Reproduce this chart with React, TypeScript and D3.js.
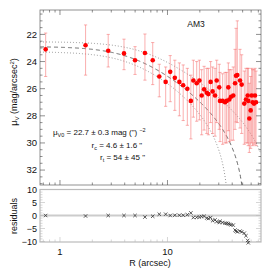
import * as d3 from "d3";

// surface brightness profile of AM3
const radius = [
  0.736, 1.73, 2.81, 3.94, 4.99, 6.17, 7.29, 8.39, 9.62, 10.6,
  11.7, 12.9, 14.0, 15.3, 16.5, 17.4, 18.7, 19.8, 20.8, 21.9,
  23.2, 24.0, 25.2, 26.3, 27.7, 28.7, 30.3, 30.8, 32.6, 34.3,
  35.5, 36.8, 37.6, 39.0, 40.9, 42.5, 43.4, 44.6, 47.3, 49.0,
  51.8, 53.7, 55.7, 56.4, 57.7, 59.4, 60.7, 62.0, 63.8, 65.2, 66.6,
];
const muV = [
  23.1, 22.8, 23.2, 23.4, 23.9, 23.37, 23.9, 25.1, 25.5, 24.76,
  25.2, 25.5, 25.75, 26.0, 26.9, 25.4, 25.6, 25.4, 26.5, 26.05,
  26.3, 26.4, 25.5, 26.2, 26.5, 25.4, 25.9, 26.9, 26.9, 27.0,
  26.9, 25.9, 26.8, 26.6, 26.5, 25.6, 25.05, 25.0, 25.4, 25.7,
  27.1, 26.8, 26.5, 26.9, 28.2, 27.6, 26.5, 27.0, 27.1, 26.5, 27.0,
];
const errUp = [
  1.2, 1.5, 1.2, 1.05, 1.0, 1.4, 1.3, 0.9, 1.1, 1.2,
  1.3, 1.4, 1.5, 1.5, 1.9, 1.5, 1.6, 1.5, 1.9, 1.7,
  1.8, 1.9, 1.5, 1.8, 2.0, 1.5, 1.7, 2.1, 2.0, 2.2,
  2.1, 1.8, 2.2, 2.0, 2.1, 2.5, 3.5, 4.0, 2.3, 2.2,
  2.4, 2.3, 2.0, 2.4, 2.6, 2.5, 2.0, 2.4, 2.5, 2.0, 2.3,
];
const errDown = [
  2.0, 2.2, 1.2, 1.2, 1.05, 2.0, 1.8, 1.5, 1.8, 2.2,
  2.4, 2.5, 2.6, 2.7, 2.8, 2.7, 2.8, 2.9, 2.9, 3.0,
  3.0, 3.0, 3.0, 3.1, 3.0, 3.1, 3.1, 3.0, 3.2, 3.0,
  3.1, 3.2, 3.1, 3.2, 3.3, 3.4, 3.4, 3.5, 3.5, 3.6,
  3.0, 3.2, 3.5, 3.3, 2.5, 2.8, 3.5, 3.2, 3.0, 3.5, 3.2,
];
const residuals = [
  0, -0.2, 0, 0, 0, -0.6, -0.3, 0.5, 0.5, 0,
  0.1, 0.1, 0.1, 0.3, 1.0, -0.8, -0.7, -0.6, -0.4, -0.3,
  -1.0, -1.2, -0.8, -2.0, -1.7, -2.4, -2.7, -2.2, -2.7, -3.0,
  -3.0, -3.1, -3.4, -3.6, -3.7, -5.6, -6.0, -6.3, -6.0, -6.3,
  -6.8, -7.8, -9.6, -10.5, null, null, null, null, null, null, null,
];

// King fits: best fit, upper and lower bounds
const fitMu0 = [22.7, 22.4, 23.0];
const fitRc = [4.6, 6.2, 4.6];
const fitRt = [54, 99, 38];

const yTickLabels = [22, 24, 26, 28, 30, 32];
const resTickLabels = [-10, -5, 0, 5, 10];
const xTickLabels = [1, 10];

const W = 270;
const H = 270;
const left = 40;
const right = 261;
const top = 10;
const mainBottom = 185;
const resTop = 189.5;
const resBottom = 242;
const font = "'Liberation Sans', Arial, Helvetica, sans-serif";

const x = d3.scaleLog().domain([0.652, 74.1]).range([left, right]);
const y = d3.scaleLinear().domain([20.2, 33.1]).range([top, mainBottom]);
const yRes = d3.scaleLinear().domain([-10, 10]).range([241.5, 189.5]);

function king(r: number, mu0: number, rc: number, rt: number) {
  const c = 1 / Math.sqrt(1 + (rt / rc) ** 2);
  const f = 1 / Math.sqrt(1 + (r / rc) ** 2) - c;
  return mu0 - 2.5 * Math.log10(f * f);
}

export default function App() {
  const [lo, hi] = x.domain();
  const line = d3
    .line<[number, number]>()
    .x((d) => x(d[0]))
    .y((d) => y(d[1]));

  const curves = fitMu0.map((mu0, k) => {
    const end = Math.min(fitRt[k] * 0.9995, hi);
    const pts: [number, number][] = d3
      .range(0, 1.0001, 1 / 500)
      .map((t) => {
        const r = Math.pow(10, Math.log10(lo) + t * (Math.log10(end) - Math.log10(lo)));
        return [r, Math.min(king(r, mu0, fitRc[k], fitRt[k]), 40)] as [number, number];
      });
    return line(pts) || "";
  });

  const xt = x.ticks();
  const isMajor = (v: number) => Math.abs(Math.log10(v) - Math.round(Math.log10(v))) < 1e-6;
  const yMinor = d3.range(20.5, 33.01, 0.5);
  const resMinor = d3.range(-10, 10.01, 1);

  const frame = "#777";
  const tickCol = "#444";
  const resCol = "#bbb";

  return (
    <svg
      width={W}
      height={H}
      style={{ position: "absolute", left: 0, top: 0, background: "#fff" }}
      fontFamily={font}
    >
      <defs>
        <clipPath id="mainClip">
          <rect x={left} y={top} width={right - left} height={mainBottom - top} />
        </clipPath>
      </defs>

      {/* model curves */}
      <g clipPath="url(#mainClip)" fill="none">
        <path d={curves[1]} stroke="#888" strokeWidth={0.9} strokeDasharray="1,2" />
        <path d={curves[2]} stroke="#888" strokeWidth={0.9} strokeDasharray="1,2" />
        <path d={curves[0]} stroke="#555" strokeWidth={0.9} strokeDasharray="4,3" />
      </g>

      {/* error bars */}
      <g clipPath="url(#mainClip)" stroke="rgba(245,110,110,0.55)" strokeWidth={1}>
        {radius.map((r, i) => {
          const cx = x(r);
          const y1 = y(muV[i] - errUp[i]);
          const y2 = y(muV[i] + errDown[i]);
          return (
            <g key={i}>
              <line x1={cx} x2={cx} y1={y1} y2={y2} />
              <line x1={cx - 1.6} x2={cx + 1.6} y1={y1} y2={y1} />
              <line x1={cx - 1.6} x2={cx + 1.6} y1={y2} y2={y2} />
            </g>
          );
        })}
      </g>

      {/* data points */}
      <g fill="#ff0000">
        {radius.map((r, i) => (
          <circle key={i} cx={x(r)} cy={y(muV[i])} r={2.3} />
        ))}
      </g>

      {/* main frame and ticks */}
      <rect x={left} y={top} width={right - left} height={mainBottom - top} fill="none" stroke={frame} strokeWidth={0.8} />
      <g stroke={tickCol} strokeWidth={0.6}>
        {yMinor.map((v) => {
          const len = yTickLabels.includes(v) ? 5 : 2.5;
          return (
            <g key={v}>
              <line x1={left} x2={left + len} y1={y(v)} y2={y(v)} />
              <line x1={right} x2={right - len} y1={y(v)} y2={y(v)} />
            </g>
          );
        })}
        {xt.map((v, i) => {
          const len = isMajor(v) ? 5 : 2.5;
          return (
            <g key={i}>
              <line x1={x(v)} x2={x(v)} y1={top} y2={top + len} />
              <line x1={x(v)} x2={x(v)} y1={mainBottom} y2={mainBottom - len} />
            </g>
          );
        })}
      </g>
      <g fontSize={9.5} textAnchor="end" fill="#111">
        {yTickLabels.map((v) => (
          <text key={v} x={37} y={y(v) + 3.4}>
            {v}
          </text>
        ))}
      </g>

      <text x={196} y={27} fontSize={8.5} textAnchor="middle" fill="#111">
        AM3
      </text>

      {/* fit parameters */}
      <g fontSize={8} fill="#111">
        <text x={53} y={134.5}>
          μ<tspan fontSize={5.5} dy={2}>V0</tspan>
          <tspan dy={-2}> = 22.7 ± 0.3 mag (") </tspan>
          <tspan fontSize={5.5} dy={-3}>−2</tspan>
        </text>
        <text x={91.5} y={147.5}>
          r<tspan fontSize={5.5} dy={2}>c</tspan>
          <tspan dy={-2}> =  4.6 ± 1.6 "</tspan>
        </text>
        <text x={100} y={160}>
          r<tspan fontSize={5.5} dy={2}>t</tspan>
          <tspan dy={-2}> = 54 ± 45 "</tspan>
        </text>
      </g>

      {/* residual panel */}
      <line x1={left} x2={right} y1={yRes(0)} y2={yRes(0)} stroke="#ccc" strokeWidth={2.2} />
      <rect x={left} y={resTop} width={right - left} height={resBottom - resTop} fill="none" stroke={resCol} strokeWidth={1.2} />
      <g stroke={resCol} strokeWidth={0.6}>
        {resMinor.map((v) => {
          const len = resTickLabels.includes(v) ? 5 : 2.5;
          return (
            <g key={v}>
              <line x1={left} x2={left + len} y1={yRes(v)} y2={yRes(v)} />
              <line x1={right} x2={right - len} y1={yRes(v)} y2={yRes(v)} />
            </g>
          );
        })}
        {xt.map((v, i) => {
          const len = isMajor(v) ? 5 : 2.5;
          return <line key={i} x1={x(v)} x2={x(v)} y1={resBottom} y2={resBottom - len} />;
        })}
      </g>
      <g stroke="#333" strokeWidth={0.8}>
        {radius.map((r, i) => {
          const v = residuals[i];
          if (v === null) return null;
          const cx = x(r);
          const cy = yRes(v);
          return (
            <g key={i}>
              <line x1={cx - 1.7} x2={cx + 1.7} y1={cy - 1.7} y2={cy + 1.7} />
              <line x1={cx - 1.7} x2={cx + 1.7} y1={cy + 1.7} y2={cy - 1.7} />
            </g>
          );
        })}
      </g>
      <g fontSize={9} textAnchor="end" fill="#111">
        {resTickLabels.map((v) => (
          <text key={v} x={37} y={yRes(v) + 3.2}>
            {v < 0 ? "−" + Math.abs(v) : v}
          </text>
        ))}
      </g>
      <g fontSize={9.5} textAnchor="middle" fill="#111">
        {xTickLabels.map((v) => (
          <text key={v} x={x(v)} y={254.5}>
            {v}
          </text>
        ))}
      </g>

      {/* axis titles */}
      <text x={150} y={265.5} fontSize={9} textAnchor="middle" fill="#111">
        R (arcsec)
      </text>
      <text transform="translate(16.5,92) rotate(-90)" fontSize={9} textAnchor="middle" fill="#111">
        μ<tspan fontSize={6} dy={2}>V</tspan>
        <tspan dy={-2}> (mag/arcsec</tspan>
        <tspan fontSize={6} dy={-3}>2</tspan>
        <tspan dy={3}>)</tspan>
      </text>
      <text transform="translate(16.5,216) rotate(-90)" fontSize={9} textAnchor="middle" fill="#111">
        residuals
      </text>
    </svg>
  );
}
